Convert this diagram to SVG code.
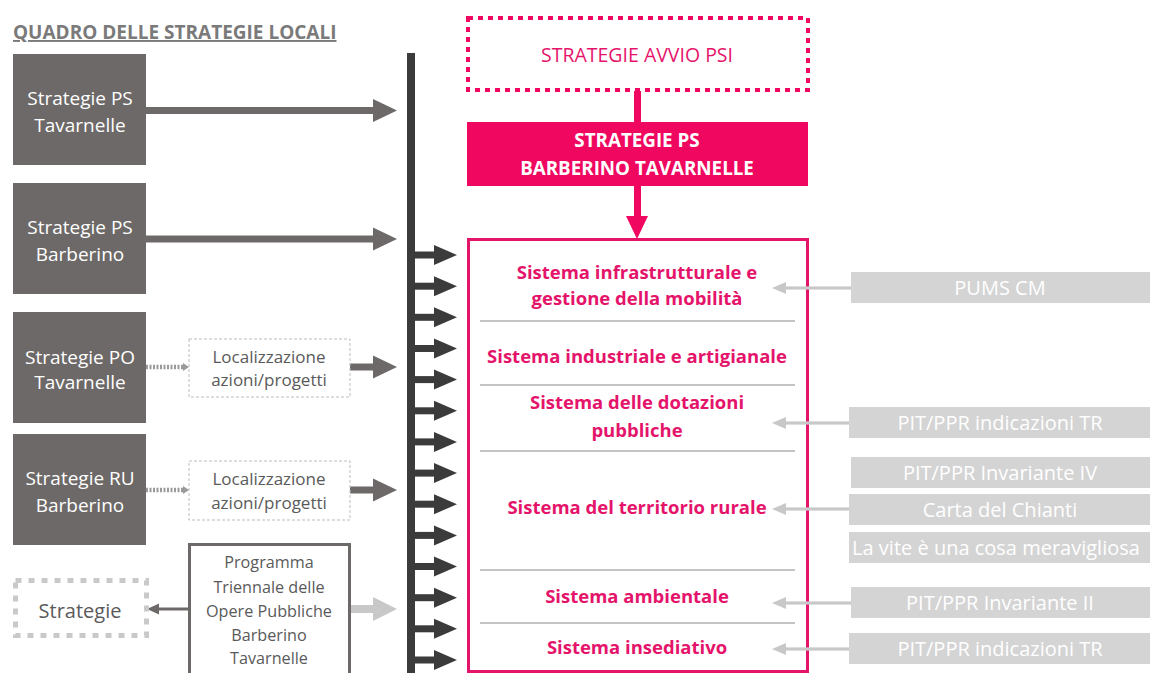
<svg xmlns="http://www.w3.org/2000/svg" xmlns:xlink="http://www.w3.org/1999/xlink" width="1150" height="673" viewBox="0 0 1150 673">
<style>
text{font-family:"Open Sans","Liberation Sans",sans-serif;text-anchor:middle}
.dk{fill:#6d6968}
.wt{fill:#ffffff;font-size:19px}
.loc{fill:#5a5a5a;font-size:17px}
.prg{fill:#5a5a5a;font-size:16.2px}
.pk{fill:#e5146b;font-size:18.5px;font-weight:bold}
.gb{fill:#d4d4d4}
.gt{fill:#ffffff;font-size:20px}
.la{fill:#c8c8c8}
.div{stroke:#8a8a8a;stroke-width:1.2}
</style>
<defs>
<g id="tick"><rect x="415" y="-3.5" width="21" height="7" fill="#3b3b3b"/><polygon points="434,-10 457,0 434,10" fill="#3b3b3b"/></g>
<g id="rarr"><rect x="785" y="-1.6" width="66" height="3.2" fill="#c8c8c8"/><polygon points="772,0 786,-6 786,6" fill="#c8c8c8"/></g>
</defs>
<rect width="1150" height="673" fill="#ffffff"/>

<g id="title">
<text x="13" y="39" style="text-anchor:start;font-size:19px;font-weight:bold;fill:#7a7a7a;text-decoration:underline">QUADRO DELLE STRATEGIE LOCALI</text>
</g>

<g id="sistemi">
<rect x="468.5" y="239.5" width="339" height="432" fill="none" stroke="#e5146b" stroke-width="3"/>
<text class="pk" x="637" y="279">Sistema infrastrutturale e</text>
<text class="pk" x="637" y="305">gestione della mobilità</text>
<line class="div" x1="480" y1="321" x2="795" y2="321"/>
<text class="pk" x="637" y="363">Sistema industriale e artigianale</text>
<line class="div" x1="480" y1="385" x2="795" y2="385"/>
<text class="pk" x="637" y="409">Sistema delle dotazioni</text>
<text class="pk" x="637" y="437">pubbliche</text>
<line class="div" x1="480" y1="451" x2="795" y2="451"/>
<text class="pk" x="637" y="514">Sistema del territorio rurale</text>
<line class="div" x1="480" y1="570" x2="795" y2="570"/>
<text class="pk" x="637" y="603">Sistema ambientale</text>
<line class="div" x1="480" y1="623" x2="795" y2="623"/>
<text class="pk" x="637" y="654">Sistema insediativo</text>
</g>

<g id="connectors">
<rect x="146" y="107" width="229" height="7" class="dk"/><polygon points="373,99 397,110.5 373,122" class="dk"/>
<rect x="146" y="235.5" width="229" height="7" class="dk"/><polygon points="373,227.5 397,239 373,250.5" class="dk"/>
<line x1="146" y1="367" x2="184" y2="367" stroke="#9a9a9a" stroke-width="4.5" stroke-dasharray="2 1.5"/><polygon points="183,363 189,367 183,371" fill="#9a9a9a"/>
<line x1="146" y1="490" x2="184" y2="490" stroke="#9a9a9a" stroke-width="4.5" stroke-dasharray="2 1.5"/><polygon points="183,486 189,490 183,494" fill="#9a9a9a"/>
<rect x="350" y="363.5" width="25" height="7" class="dk"/><polygon points="373,355.5 397,367 373,378.5" class="dk"/>
<rect x="350" y="486.5" width="25" height="7" class="dk"/><polygon points="373,478.5 397,490 373,501.5" class="dk"/>
<rect x="158" y="607.5" width="31" height="3" fill="#6d6968"/><polygon points="147,609 159,603.5 159,614.5" fill="#6d6968"/>
<rect x="350" y="605" width="25" height="8" class="la"/><polygon points="373,597 397,609 373,621" class="la"/>
<rect x="407" y="53" width="8" height="625" fill="#3b3b3b"/>
<use xlink:href="#tick" y="255"/>
<use xlink:href="#tick" y="286.2"/>
<use xlink:href="#tick" y="317.3"/>
<use xlink:href="#tick" y="348.5"/>
<use xlink:href="#tick" y="379.6"/>
<use xlink:href="#tick" y="410.8"/>
<use xlink:href="#tick" y="441.9"/>
<use xlink:href="#tick" y="473.1"/>
<use xlink:href="#tick" y="504.2"/>
<use xlink:href="#tick" y="535.4"/>
<use xlink:href="#tick" y="566.5"/>
<use xlink:href="#tick" y="597.7"/>
<use xlink:href="#tick" y="628.8"/>
<use xlink:href="#tick" y="660"/>
<rect x="634" y="91" width="7" height="32" fill="#f0075f"/>
<rect x="634" y="185" width="7" height="33" fill="#f0075f"/>
<polygon points="626,216 648,216 637,239" fill="#f0075f"/>
<use xlink:href="#rarr" y="288"/>
<use xlink:href="#rarr" y="423"/>
<use xlink:href="#rarr" y="509"/>
<use xlink:href="#rarr" y="603"/>
<use xlink:href="#rarr" y="649"/>
</g>

<g id="ps-tavarnelle"><rect x="13" y="54" width="133" height="111" class="dk"/><text class="wt" x="80" y="104.5">Strategie PS</text><text class="wt" x="80" y="131.5">Tavarnelle</text></g>
<g id="ps-barberino"><rect x="13" y="183" width="133" height="111" class="dk"/><text class="wt" x="80" y="233.5">Strategie PS</text><text class="wt" x="80" y="260.5">Barberino</text></g>
<g id="po-tavarnelle"><rect x="13" y="312" width="133" height="111" class="dk"/><text class="wt" x="80" y="363.5">Strategie PO</text><text class="wt" x="80" y="388.5">Tavarnelle</text></g>
<g id="ru-barberino"><rect x="13" y="434" width="133" height="111" class="dk"/><text class="wt" x="80" y="484.5">Strategie RU</text><text class="wt" x="80" y="511.5">Barberino</text></g>

<g id="loc1"><rect x="189" y="339" width="161" height="58" fill="none" stroke="#bdbdbd" stroke-width="1" stroke-dasharray="3 2"/><text class="loc" x="269" y="363">Localizzazione</text><text class="loc" x="269" y="386">azioni/progetti</text></g>
<g id="loc2"><rect x="189" y="461" width="161" height="59" fill="none" stroke="#bdbdbd" stroke-width="1" stroke-dasharray="3 2"/><text class="loc" x="269" y="485">Localizzazione</text><text class="loc" x="269" y="509">azioni/progetti</text></g>

<g id="programma"><rect x="189.5" y="544.5" width="160" height="140" fill="#ffffff" stroke="#6d6968" stroke-width="3"/>
<text class="prg" x="269" y="568">Programma</text><text class="prg" x="269" y="592.5">Triennale delle</text><text class="prg" x="269" y="617">Opere Pubbliche</text><text class="prg" x="269" y="641">Barberino</text><text class="prg" x="269" y="664">Tavarnelle</text></g>

<g id="strategie"><rect x="15.5" y="580.5" width="131" height="55" fill="none" stroke="#c9c9c9" stroke-width="5" stroke-dasharray="6 7"/><text x="80" y="618" style="fill:#5a5a5a;font-size:20px">Strategie</text></g>

<g id="avvio-psi"><rect x="468" y="18" width="340" height="72" fill="none" stroke="#f0075f" stroke-width="4" stroke-dasharray="5 5"/><text x="637" y="62" style="fill:#e5146b;font-size:19.5px">STRATEGIE AVVIO PSI</text></g>

<g id="ps-barberino-tavarnelle"><rect x="467" y="122" width="341" height="64" fill="#f0075f"/><text x="637" y="147" style="fill:#ffffff;font-size:18.8px;font-weight:bold">STRATEGIE PS</text><text x="637" y="175" style="fill:#ffffff;font-size:18.8px;font-weight:bold">BARBERINO TAVARNELLE</text></g>

<g id="pums"><rect class="gb" x="851" y="272" width="299" height="31"/><text class="gt" x="1000" y="295">PUMS CM</text></g>
<g id="pit-tr-1"><rect class="gb" x="849" y="407" width="301" height="31"/><text class="gt" x="1000" y="430">PIT/PPR indicazioni TR</text></g>
<g id="pit-inv-iv"><rect class="gb" x="851" y="457" width="299" height="31"/><text class="gt" x="1000" y="480">PIT/PPR Invariante IV</text></g>
<g id="carta-chianti"><rect class="gb" x="849" y="494" width="301" height="31"/><text class="gt" x="1000" y="517">Carta del Chianti</text></g>
<g id="la-vite"><rect class="gb" x="849" y="532" width="301" height="31"/><text class="gt" x="996" y="555">La vite è una cosa meravigliosa</text></g>
<g id="pit-inv-ii"><rect class="gb" x="851" y="587" width="299" height="31"/><text class="gt" x="1000" y="610">PIT/PPR Invariante II</text></g>
<g id="pit-tr-2"><rect class="gb" x="849" y="633" width="301" height="31"/><text class="gt" x="1000" y="656">PIT/PPR indicazioni TR</text></g>
</svg>
